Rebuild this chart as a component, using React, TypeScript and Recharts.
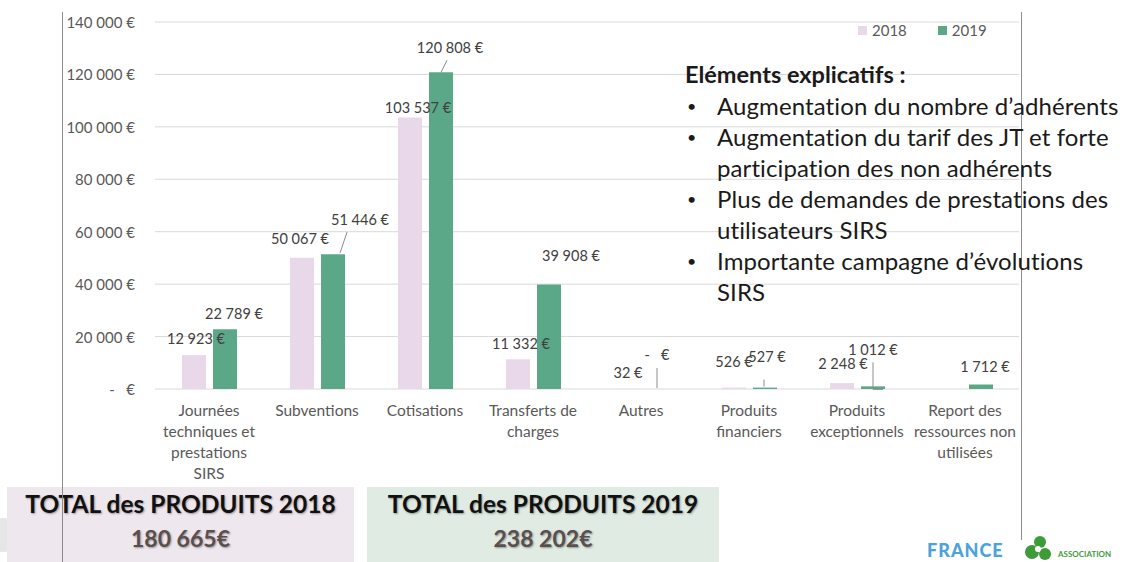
import React from 'react';
import {
  BarChart,
  Bar,
  XAxis,
  YAxis,
  CartesianGrid,
  LabelList,
} from 'recharts';

const categories = [
  'Journées\ntechniques et\nprestations\nSIRS',
  'Subventions',
  'Cotisations',
  'Transferts de\ncharges',
  'Autres',
  'Produits\nfinanciers',
  'Produits\nexceptionnels',
  'Report des\nressources non\nutilisées',
];
const values2018 = [12923, 50067, 103537, 11332, 32, 526, 2248, null];
const values2019 = [22789, 51446, 120808, 39908, 0, 527, 1012, 1712];
const yTicks = [0, 20000, 40000, 60000, 80000, 100000, 120000, 140000];
const seriesNames = ['2018', '2019'];

const noteTitle = 'Eléments explicatifs :';
const notes = [
  ['Augmentation du nombre d’adhérents'],
  ['Augmentation du tarif des JT et forte', 'participation des non adhérents'],
  ['Plus de demandes de prestations des', 'utilisateurs SIRS'],
  ['Importante campagne d’évolutions', 'SIRS'],
];

const totalYears = ['2018', '2019'];
const totalValues = [180665, 238202];

const data = categories.map((name, i) => ({
  name,
  y2018: values2018[i],
  y2019: values2019[i],
}));

// label placement (relative to the top centre of each bar), like the hand-moved excel labels
const labelOffsets2018 = [
  [2, -17], [-2, -19], [8, -10], [3, -16], [2, -16], [0, -26], [1, -20], [0, -18],
];
const labelOffsets2019 = [
  [9, -16], [27, -35], [9, -25], [22, -29], [0, -34], [2, -31], [0, -37], [4, -18],
];
const leaders2019: Record<number, number[][]> = {
  1: [[7, -1], [14, -22]],
  2: [[0, 0], [6, -12]],
  4: [[0, -21], [0, -1]],
  5: [[-1, -8], [-1, -1]],
  6: [[0, -24], [0, 3], [10, 3]],
};

const PINK = '#e8d8ea';
const GREEN = '#5ba888';
const FONT = 'Lato, "Open Sans", sans-serif';

const fmt = (v: number) =>
  v === 0 ? '-   €' : String(v).replace(/\B(?=(\d{3})+(?!\d))/g, ' ') + ' €';

// keep a zero-height rect so its label (and leader) is still drawn
const keepZero = (v: any) => (v === 0 ? 0.01 : 0);

const makeLabel =
  (offsets: number[][], leaders: Record<number, number[][]>) => (props: any) => {
    const { value, index } = props;
    if (value === null || value === undefined) return null;
    const vb = props.viewBox || {};
    const x = props.x ?? vb.x;
    const y = props.y ?? vb.y;
    const width = props.width ?? vb.width;
    const cx = x + width / 2;
    const [dx, dy] = offsets[index];
    const lead = leaders[index];
    return (
      <g>
        {lead && (
          <polyline
            points={lead.map(([a, b]) => `${cx + a},${y + b}`).join(' ')}
            fill="none"
            stroke="#8c8c8c"
            strokeWidth={1}
          />
        )}
        <text
          x={cx + dx}
          y={y + dy}
          textAnchor="middle"
          dominantBaseline="central"
          fontSize={14.5}
          fontFamily={FONT}
          fill="#404040"
          style={{ whiteSpace: 'pre' }}
        >
          {fmt(value)}
        </text>
      </g>
    );
  };

const YTick = (props: any) => {
  const { x, y, payload } = props;
  return (
    <text
      x={x}
      y={y}
      textAnchor="end"
      dominantBaseline="central"
      fontSize={15}
      fontFamily={FONT}
      fill="#595959"
      style={{ whiteSpace: 'pre' }}
    >
      {fmt(payload.value)}
    </text>
  );
};

const XTick = (props: any) => {
  const { x, y, payload } = props;
  const lines = String(payload.value).split('\n');
  return (
    <g>
      {lines.map((line, i) => (
        <text
          key={i}
          x={x}
          y={y + 21 + i * 21}
          textAnchor="middle"
          dominantBaseline="central"
          fontSize={15.5}
          fontFamily={FONT}
          fill="#595959"
        >
          {line}
        </text>
      ))}
    </g>
  );
};

export default function App() {
  return (
    <div
      style={{
        position: 'fixed',
        top: 0,
        left: 0,
        width: 1125,
        height: 562,
        overflow: 'hidden',
        background: '#fff',
        fontFamily: FONT,
      }}
    >
      {/* frame lines */}
      <div style={{ position: 'absolute', left: 62, top: 12, width: 1, height: 550, background: '#8c8c8c' }} />
      <div style={{ position: 'absolute', left: 1021, top: 12, width: 1, height: 528, background: '#8c8c8c' }} />

      <div style={{ position: 'absolute', left: 0, top: 0 }}>
        <BarChart
          width={1125}
          height={562}
          data={data}
          margin={{ top: 22, right: 106, bottom: 83, left: 65 }}
          barSize={24}
          barGap={7}
        >
          <CartesianGrid vertical={false} stroke="#d9d9d9" />
          <XAxis
            dataKey="name"
            interval={0}
            height={90}
            axisLine={false}
            tickLine={false}
            tickSize={0}
            tickMargin={0}
            tick={<XTick />}
          />
          <YAxis
            domain={[0, 140000]}
            ticks={yTicks}
            width={90}
            axisLine={false}
            tickLine={false}
            tickSize={0}
            tickMargin={20}
            tick={<YTick />}
          />
          <Bar dataKey="y2018" name="2018" fill={PINK} isAnimationActive={false}>
            <LabelList dataKey="y2018" content={makeLabel(labelOffsets2018, {})} />
          </Bar>
          <Bar
            dataKey="y2019"
            name="2019"
            fill={GREEN}
            minPointSize={keepZero}
            isAnimationActive={false}
          >
            <LabelList dataKey="y2019" content={makeLabel(labelOffsets2019, leaders2019)} />
          </Bar>
        </BarChart>
      </div>

      {/* legend */}
      <div
        style={{
          position: 'absolute',
          left: 858,
          top: 21,
          display: 'flex',
          fontSize: 15,
          color: '#595959',
        }}
      >
        {seriesNames.map((s, i) => (
          <div key={s} style={{ display: 'flex', alignItems: 'center', marginRight: 31 }}>
            <span
              style={{
                width: 9,
                height: 9,
                background: i === 0 ? PINK : GREEN,
                marginRight: 5,
                display: 'inline-block',
              }}
            />
            {s}
          </div>
        ))}
      </div>

      {/* notes */}
      <div style={{ position: 'absolute', left: 685, top: 59, color: '#1a1a1a', whiteSpace: 'nowrap' }}>
        <div style={{ fontWeight: 700, fontSize: 23.5, lineHeight: '31px' }}>{noteTitle}</div>
        {notes.map((lines, i) => (
          <div key={i} style={{ position: 'relative', paddingLeft: 32, fontSize: 24, lineHeight: '31px', letterSpacing: 0.1 }}>
            <span style={{ position: 'absolute', left: 2, top: 0, fontSize: 16 }}>•</span>
            {lines.map((l, j) => (
              <div key={j}>{l}</div>
            ))}
          </div>
        ))}
      </div>

      {/* totals */}
      <div
        style={{
          position: 'absolute',
          left: -14,
          top: 518,
          width: 34,
          height: 34,
          borderRadius: 17,
          background: '#e6e6e6',
        }}
      />
      {totalYears.map((yr, i) => (
        <div
          key={yr}
          style={{
            position: 'absolute',
            left: i === 0 ? 7 : 367,
            top: 487,
            width: i === 0 ? 347 : 352,
            height: 80,
            background: i === 0 ? '#eee7ee' : '#e0ebe4',
            textAlign: 'center',
            fontWeight: 700,
            textShadow: '1px 1px 2px rgba(0,0,0,0.35)',
          }}
        >
          <div style={{ fontSize: 24.5, lineHeight: '32px', marginTop: 1, color: '#111' }}>
            TOTAL des PRODUITS {yr}
          </div>
          <div style={{ fontSize: 23, lineHeight: '36px', color: '#5a4f4f' }}>
            {String(totalValues[i]).replace(/\B(?=(\d{3})+(?!\d))/g, ' ')}€
          </div>
        </div>
      ))}
      {/* left frame line runs over the first total box */}
      <div style={{ position: 'absolute', left: 62, top: 487, width: 1, height: 75, background: '#8c8c8c' }} />

      {/* logo */}
      <div
        style={{
          position: 'absolute',
          left: 927,
          top: 541,
          fontSize: 18,
          lineHeight: '18px',
          fontWeight: 900,
          color: '#4ba3d9',
          letterSpacing: 1,
        }}
      >
        FRANCE
      </div>
      <svg style={{ position: 'absolute', left: 1020, top: 534 }} width={34} height={28}>
        <circle cx={20} cy={8} r={6} fill="#3f9a3a" />
        <circle cx={12} cy={18} r={7} fill="#3f9a3a" />
        <circle cx={25} cy={20} r={6} fill="#3f9a3a" />
        <circle cx={18} cy={15} r={3} fill="#fff" />
      </svg>
      <div
        style={{
          position: 'absolute',
          left: 1058,
          top: 549,
          fontSize: 8,
          color: '#3f9a3a',
          fontWeight: 700,
        }}
      >
        ASSOCIATION
      </div>
    </div>
  );
}
